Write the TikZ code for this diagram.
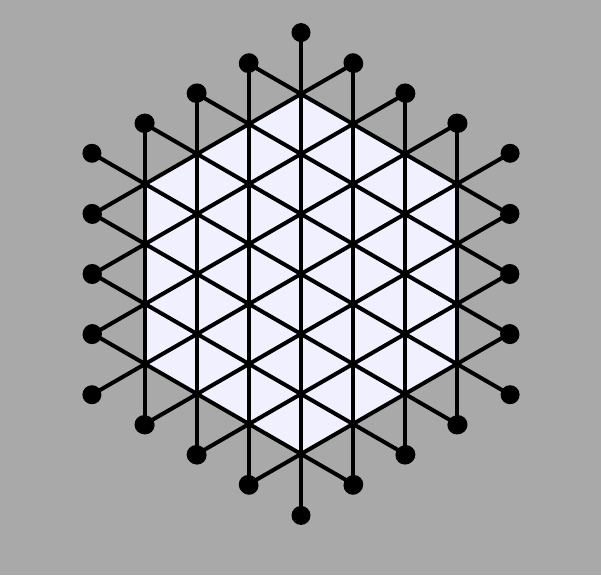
\documentclass[tikz,border=0pt]{standalone}
\usepackage{tikz}
\usetikzlibrary{positioning}
\definecolor{latgray}{RGB}{169,169,169}
\definecolor{latcell}{RGB}{240,240,255}

\begin{document}
\begin{tikzpicture}[x=1pt,y=1.006pt,
  bar/.style={line width=4pt,black},
  knob/.style={circle,fill=black,inner sep=0pt,minimum size=19pt}]
\fill[latgray] (0,0) rectangle (601,571.57);
\coordinate (c) at (301,299.2);
\fill[latcell,shift={(c)}] (30:180) -- (90:180) -- (150:180) -- (210:180) -- (270:180) -- (330:180) -- cycle;
% three families of lattice lines, each one unit past the hexagon
\foreach \r in {0,60,120}{
  \begin{scope}[shift={(c)},rotate=\r]
  \foreach \k in {-3,...,3}{
    \pgfmathsetmacro\h{240-30*abs(\k)}
    \node[knob] (t\r\k) at (\k*51.96,\h) {};
    \node[knob] (b\r\k) at (\k*51.96,-\h) {};
    \draw[bar] (t\r\k.center) -- (b\r\k.center);
  }
  \end{scope}
}
\end{tikzpicture}
\end{document}
